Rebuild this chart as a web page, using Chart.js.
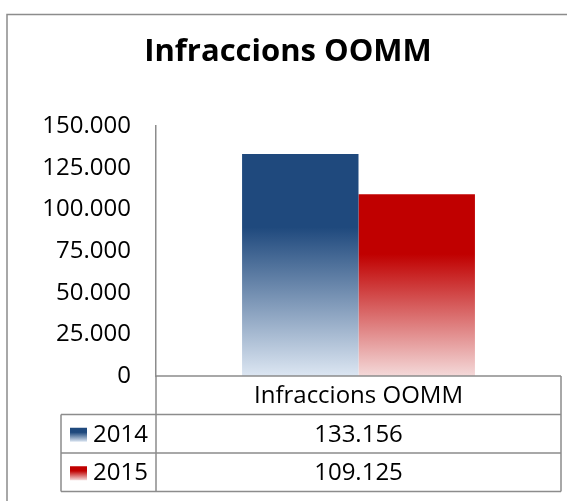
<!DOCTYPE html>
<html>
<head>
<meta charset="utf-8">
<title>Infraccions OOMM</title>
<script src="https://cdn.jsdelivr.net/npm/chart.js@4.4.1/dist/chart.umd.min.js"></script>
<style>
  html, body { margin: 0; padding: 0; background: #fff; }
  #wrap { width: 567px; height: 501px; position: relative; }
</style>
</head>
<body>
<div id="wrap"><canvas id="chart"></canvas></div>
<script>
// chart data
const categories = ['Infraccions OOMM'];
const years = ['2014', '2015'];
const values2014 = [133156];
const values2015 = [109125];
const yTicks = [0, 25000, 50000, 75000, 100000, 125000, 150000];

const chartTitle = 'Infraccions OOMM';
const FONT = '"Open Sans", "DejaVu Sans", sans-serif';
const GRID = '#8c8c8c';

// dark top colour, light bottom colour
const palette = [
    ['#1f497d', '#dce6f2'],
    ['#c00000', '#f4d9d9']
];

function fmt(v) {
    return String(v).replace(/\B(?=(\d{3})+(?!\d))/g, '.');
}

function fade(ctx, top, bottom, colors) {
    const g = ctx.createLinearGradient(0, top, 0, bottom);
    g.addColorStop(0, colors[0]);
    g.addColorStop(0.33, colors[0]);
    g.addColorStop(1, colors[1]);
    return g;
}

function barFill(i) {
    return function(c) {
        const chart = c.chart;
        if (!chart.chartArea || c.type !== 'data') return palette[i][0];
        const y = chart.scales.y;
        return fade(chart.ctx, y.getPixelForValue(c.raw), y.getPixelForValue(0), palette[i]);
    };
}

// frame, title and the data table under the plot
const decorations = {
    id: 'decorations',
    afterDraw(chart) {
        const ctx = chart.ctx;
        const area = chart.chartArea;
        const rowH = 38.5;
        const tableLeft = 61;
        const y0 = area.bottom;
        const y1 = y0 + rowH, y2 = y1 + rowH, y3 = y2 + rowH;

        ctx.save();
        ctx.strokeStyle = GRID;
        ctx.lineWidth = 1.5;

        // chart frame (right and bottom sides are outside the picture)
        ctx.beginPath();
        ctx.moveTo(7, 600); ctx.lineTo(7, 14.5); ctx.lineTo(600, 14.5);
        ctx.stroke();

        // table grid
        ctx.beginPath();
        ctx.moveTo(area.left, y0); ctx.lineTo(area.right, y0);
        ctx.moveTo(area.left, y0); ctx.lineTo(area.left, y3);
        ctx.moveTo(area.right, y0); ctx.lineTo(area.right, y3);
        ctx.moveTo(tableLeft, y1); ctx.lineTo(area.right, y1);
        ctx.moveTo(tableLeft, y2); ctx.lineTo(area.right, y2);
        ctx.moveTo(tableLeft, y3); ctx.lineTo(area.right, y3);
        ctx.moveTo(tableLeft, y1); ctx.lineTo(tableLeft, y3);
        ctx.stroke();

        // title
        ctx.fillStyle = '#000';
        ctx.textAlign = 'center';
        ctx.textBaseline = 'middle';
        ctx.font = 'bold 31px ' + FONT;
        ctx.fillText(chartTitle, 288, 52);

        // table text
        const cx = (area.left + area.right) / 2;
        ctx.font = '24px ' + FONT;
        ctx.fillText(categories[0], cx, (y0 + y1) / 2 + 1);
        const series = [values2014, values2015];
        const rows = [[y1, y2], [y2, y3]];
        rows.forEach((r, i) => {
            const my = (r[0] + r[1]) / 2 + 1;
            ctx.textAlign = 'center';
            ctx.fillStyle = '#000';
            ctx.fillText(fmt(series[i][0]), cx, my);
            // legend key
            const sy = my - 7;
            ctx.fillStyle = fade(ctx, sy, sy + 14, palette[i]);
            ctx.fillRect(70, sy, 17, 14);
            ctx.fillStyle = '#000';
            ctx.textAlign = 'left';
            ctx.fillText(years[i], 93, my);
        });
        ctx.restore();
    }
};

new Chart(document.getElementById('chart'), {
    type: 'bar',
    data: {
        labels: categories,
        datasets: [
            { label: years[0], data: values2014, backgroundColor: barFill(0) },
            { label: years[1], data: values2015, backgroundColor: barFill(1) }
        ]
    },
    options: {
        responsive: true,
        maintainAspectRatio: false,
        animation: false,
        devicePixelRatio: 1,
        layout: { padding: { top: 126, bottom: 125, right: 6, left: 0 } },
        datasets: {
            bar: { barPercentage: 1, categoryPercentage: 0.575 }
        },
        plugins: {
            legend: { display: false },
            title: { display: false },
            tooltip: { enabled: false }
        },
        scales: {
            x: { display: false },
            y: {
                min: 0,
                max: 150000,
                afterFit(scale) { scale.width = 156; },
                afterBuildTicks(scale) { scale.ticks = yTicks.map(v => ({ value: v })); },
                grid: { display: false, drawTicks: false },
                border: { display: true, color: GRID, width: 1.5 },
                ticks: {
                    padding: 25,
                    color: '#000',
                    font: { family: FONT, size: 24 },
                    callback: v => fmt(v)
                }
            }
        }
    },
    plugins: [decorations]
});
</script>
</body>
</html>
